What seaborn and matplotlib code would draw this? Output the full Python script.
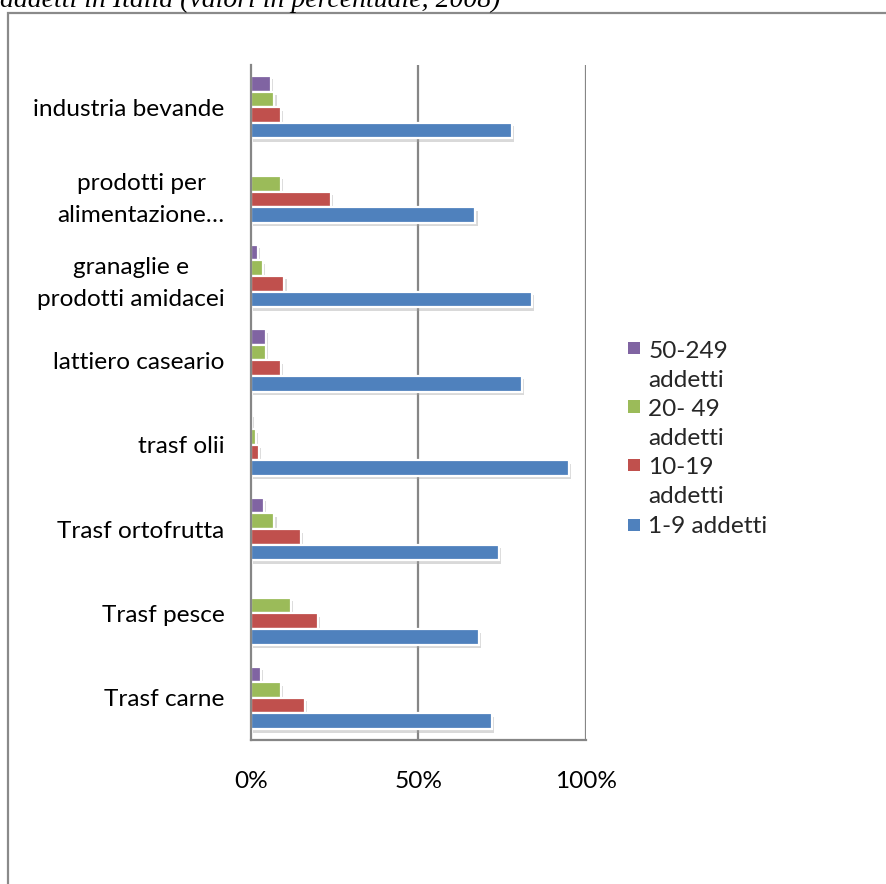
import matplotlib
matplotlib.use("Agg")
import matplotlib.pyplot as plt
import matplotlib.patheffects as pe
from matplotlib.patches import Rectangle
from matplotlib.legend_handler import HandlerPatch
import numpy as np
import pandas as pd
import seaborn as sns

# Sector labels (top to bottom)
settori = [
    "industria bevande",
    "prodotti per\nalimentazione…",
    "granaglie e\nprodotti amidacei",
    "lattiero caseario",
    "trasf olii",
    "Trasf ortofrutta",
    "Trasf pesce",
    "Trasf carne",
]

# Size classes (legend order, top to bottom inside each group)
classi = ["50-249\naddetti", "20- 49\naddetti", "10-19\naddetti", "1-9 addetti"]

# Share of firms per size class, % (same sector order as above)
quota_50_249 = [6, 0, 2, 4.5, 0.3, 4, 0, 3]
quota_20_49 = [7, 9, 3.5, 4.5, 1.5, 7, 12, 9]
quota_10_19 = [9, 24, 10, 9, 2.5, 15, 20, 16]
quota_1_9 = [78, 67, 84, 81, 95, 74, 68, 72]

xticks = [0, 50, 100]
xtick_labels = ["0%", "50%", "100%"]

colori = ["#8064A2", "#9BBB59", "#C0504D", "#4F81BD"]

titolo = "addetti in Italia (valori in percentuale, 2008)"

df = pd.DataFrame({
    "settore": settori * 4,
    "classe": [c for c in classi for _ in settori],
    "quota": quota_50_249 + quota_20_49 + quota_10_19 + quota_1_9,
})

sns.set_theme(style="white")
plt.rcParams["font.family"] = ["Lato", "DejaVu Sans"]

FS = 17.6

W, H = 887, 884
fig = plt.figure(figsize=(W / 100, H / 100), dpi=100)
fig.patch.set_facecolor("white")

# Axes rectangle in pixel terms
left, right, top, bottom = 251, 586, 65, 740
ax = fig.add_axes([left / W, 1 - bottom / H, (right - left) / W, (bottom - top) / H])

sns.barplot(
    data=df, y="settore", x="quota", hue="classe", orient="h",
    order=settori, hue_order=classi, palette=colori, saturation=1,
    width=0.74, edgecolor="white", linewidth=1.6, legend=False, ax=ax,
    errorbar=None,
)

shadow = [pe.SimplePatchShadow(offset=(1.5, -2.5), shadow_rgbFace="#a0a0a0", alpha=0.4),
          pe.Normal()]
for p in ax.patches:
    p.set_path_effects(shadow)

ax.set_xlim(0, 100)
ax.set_ylim(len(settori) - 0.5, -0.5)
ax.set_xticks(xticks)
ax.set_xticklabels(xtick_labels)
ax.set_yticks(range(len(settori)))
ax.set_yticklabels(settori, multialignment="center", linespacing=1.68)
ax.set_xlabel("")
ax.set_ylabel("")

grid_col = "#868686"
for x in xticks[1:]:
    ax.axvline(x, color=grid_col, lw=1.6, zorder=0)
for side in ["top", "right"]:
    ax.spines[side].set_visible(False)
for side in ["left", "bottom"]:
    ax.spines[side].set_color(grid_col)
    ax.spines[side].set_linewidth(1.6)

ax.tick_params(axis="x", length=0, pad=22, labelsize=FS, labelcolor="black")
ax.tick_params(axis="y", length=0, pad=19, labelsize=FS, labelcolor="black")


class FirstLineSquare(HandlerPatch):
    """Square legend key aligned with the first line of the label."""

    def __init__(self, lift=0.0):
        super().__init__()
        self.lift = lift

    def create_artists(self, legend, orig_handle, xdescent, ydescent,
                       width, height, fontsize, trans):
        side = 0.5 * fontsize
        x0 = -xdescent + (width - side) / 2
        y0 = -ydescent + (height - side) / 2 + self.lift * fontsize
        sq = Rectangle((x0, y0), side, side, facecolor=orig_handle.get_facecolor(),
                       edgecolor="none", transform=trans)
        return [sq]


handles = [Rectangle((0, 0), 1, 1, facecolor=c) for c in colori]
hmap = {h: FirstLineSquare(0.72 if "\n" in lab else 0.0) for h, lab in zip(handles, classi)}
leg = fig.legend(
    handles, classi, handler_map=hmap, loc="upper left",
    bbox_to_anchor=(628 / W, 1 - 341 / H), frameon=False, fontsize=FS,
    handlelength=0.5, handleheight=0.8, handletextpad=0.33, labelspacing=0.35,
    borderaxespad=0, borderpad=0,
)
for t in leg.get_texts():
    t.set_linespacing(1.45)

# Document caption running above the chart frame
fig.text(0.0, 1 - 7 / H, titolo, family="Liberation Serif", style="italic",
         fontsize=20, va="baseline", ha="left", color="black")

# Outer chart frame (extends beyond the right and bottom edges)
fig.add_artist(Rectangle((8.5 / W, -0.05), 1.2, 1 - 12.5 / H + 0.05,
                         transform=fig.transFigure, fill=False,
                         edgecolor="#8a8a8a", lw=1.6, clip_on=False))

fig.savefig("out.png", dpi=100, facecolor="white")
